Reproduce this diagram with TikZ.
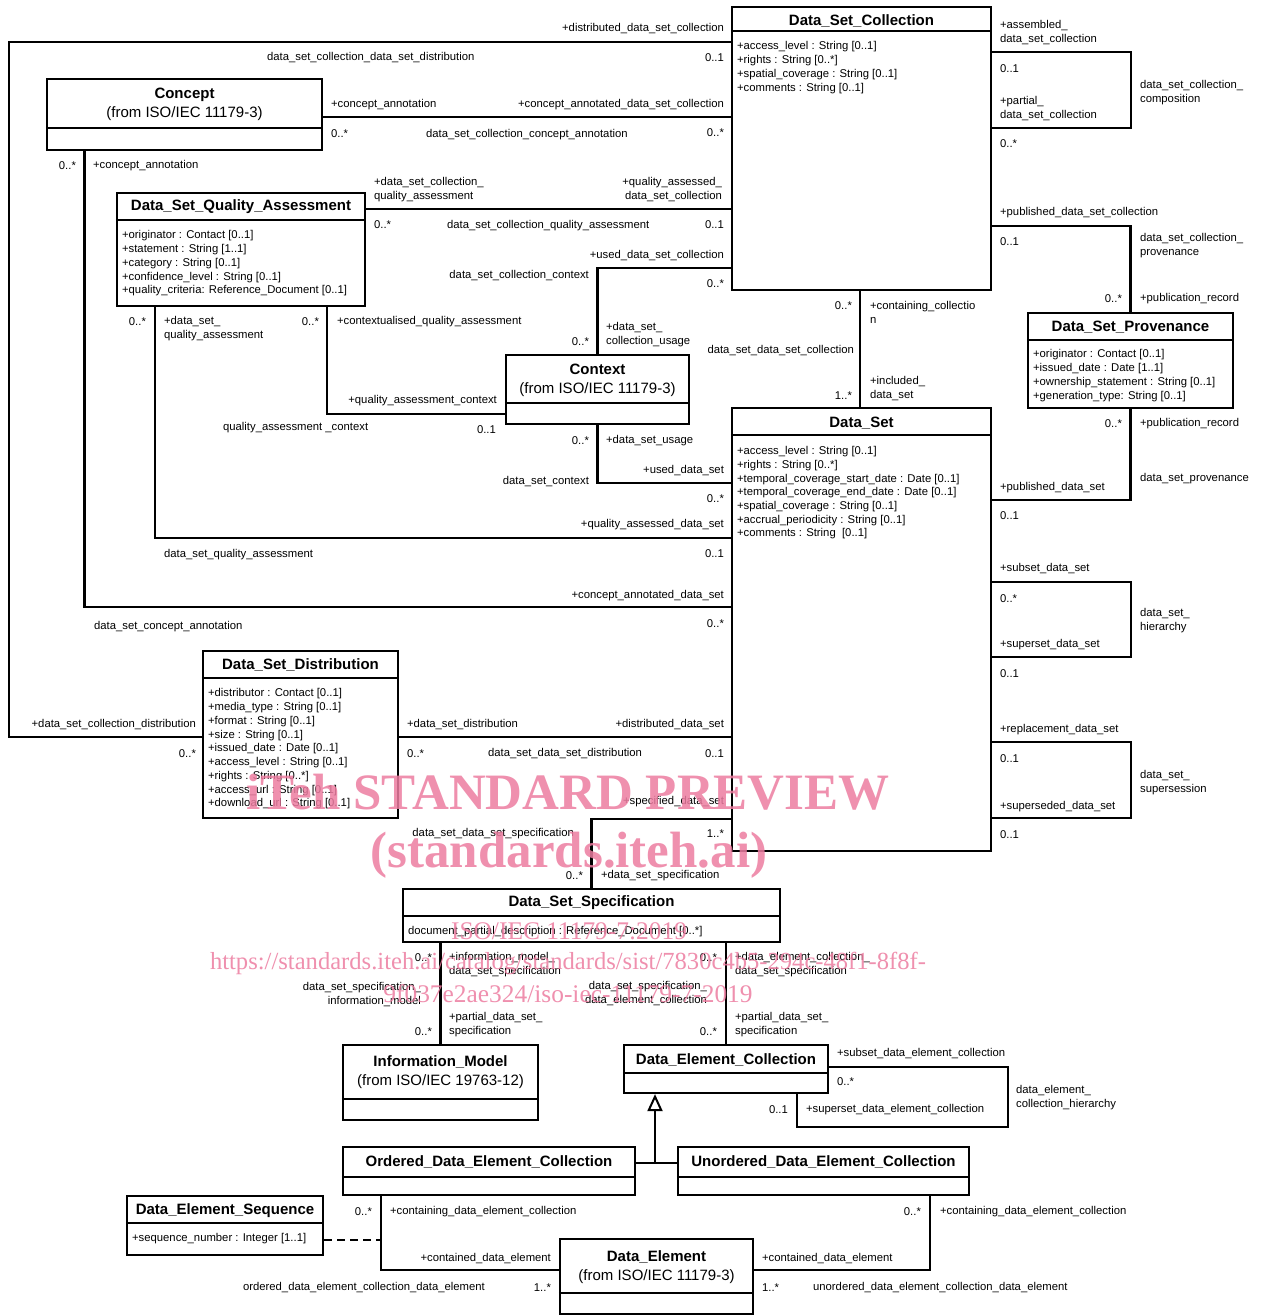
\documentclass[tikz,border=0pt]{standalone}
\usepackage{fontspec}
\setmainfont{Liberation Sans}
\newfontfamily\wmfont{Liberation Serif}
\usetikzlibrary{fit,arrows.meta}
\definecolor{wmpink}{RGB}{236,124,160}
\tikzset{
  ln/.style={line width=2.2pt},
  cbox/.style={draw, line width=2.2pt, inner sep=0pt},
  ttl/.style={font=\fontsize{15}{18}\selectfont\bfseries, inner sep=0pt, yshift=-1pt},
  ttl2/.style={font=\fontsize{15}{19}\selectfont, inner sep=0pt, align=center, yshift=-1.5pt},
  attr/.style={font=\fontsize{11.3}{13.75}\selectfont, align=left, inner sep=0pt, anchor=north west},
  lb/.style={font=\fontsize{11.3}{14}\selectfont, inner sep=0pt, yshift=-1.5pt},
  lw/.style={lb, anchor=west, align=left},
  le/.style={lb, anchor=east, align=right},
  wmb/.style={text=wmpink, text opacity=0.85, inner sep=0pt, font=\wmfont\bfseries\fontsize{51}{55}\selectfont},
  wmr/.style={text=wmpink, text opacity=0.85, inner sep=0pt, font=\wmfont\fontsize{25.4}{28}\selectfont},
}
\begin{document}
\begin{tikzpicture}[x=1pt,y=-1pt,line width=2.2pt]
\useasboundingbox (0,0) rectangle (1262,1316);
% ---------------- classes ----------------
% Data_Set_Collection
\node[cbox, fit={(732,7) (991,290)}] (dsc) {};
\draw (dsc.west |- 0,31) -- (dsc.east |- 0,31);
\node[ttl] (dsct) at (861.5,19.5) {Data\_Set\_Collection};
\node[attr] (dsca) at (736,40.5) {+access\_level : String [0..1]\\+rights : String [0..*]\\+spatial\_coverage : String [0..1]\\+comments : String [0..1]};
% Concept
\node[cbox, fit={(47,79) (322,150)}] (concept) {};
\draw (concept.west |- 0,128) -- (concept.east |- 0,128);
\node[ttl2] (conceptt) at (184.5,103) {\textbf{Concept}\\(from ISO/IEC 11179-3)};
% Data_Set_Quality_Assessment
\node[cbox, fit={(117,193) (365,306)}] (dsqa) {};
\draw (dsqa.west |- 0,220) -- (dsqa.east |- 0,220);
\node[ttl] (dsqat) at (241,206) {Data\_Set\_Quality\_Assessment};
\node[attr] (dsqaa) at (121,229.5) {+originator : Contact [0..1]\\+statement : String [1..1]\\+category : String [0..1]\\+confidence\_level : String [0..1]\\+quality\_criteria: Reference\_Document [0..1]};
% Context
\node[cbox, fit={(506,355) (689,424)}] (context) {};
\draw (context.west |- 0,403) -- (context.east |- 0,403);
\node[ttl2] (contextt) at (597.5,378.5) {\textbf{Context}\\(from ISO/IEC 11179-3)};
% Data_Set_Provenance
\node[cbox, fit={(1028,313) (1233,408)}] (dsp) {};
\draw (dsp.west |- 0,340) -- (dsp.east |- 0,340);
\node[ttl] (dspt) at (1130.5,326) {Data\_Set\_Provenance};
\node[attr] (dspa) at (1032,348.5) {+originator : Contact [0..1]\\+issued\_date : Date [1..1]\\+ownership\_statement : String [0..1]\\+generation\_type: String [0..1]};
% Data_Set
\node[cbox, fit={(732,408) (991,851)}] (ds) {};
\draw (ds.west |- 0,435) -- (ds.east |- 0,435);
\node[ttl] (dst) at (861.5,422) {Data\_Set};
\node[attr, font=\fontsize{11.3}{13.67}\selectfont] (dsa) at (736,445.5) {+access\_level : String [0..1]\\+rights : String [0..*]\\+temporal\_coverage\_start\_date : Date [0..1]\\+temporal\_coverage\_end\_date : Date [0..1]\\+spatial\_coverage : String [0..1]\\+accrual\_periodicity : String [0..1]\\+comments : String~ [0..1]};
% Data_Set_Distribution
\node[cbox, fit={(203,651) (398,818)}] (dsd) {};
\draw (dsd.west |- 0,678) -- (dsd.east |- 0,678);
\node[ttl] (dsdt) at (300.5,664) {Data\_Set\_Distribution};
\node[attr] (dsda) at (207,687.5) {+distributor : Contact [0..1]\\+media\_type : String [0..1]\\+format : String [0..1]\\+size : String [0..1]\\+issued\_date : Date [0..1]\\+access\_level : String [0..1]\\+rights : String [0..*]\\+access\_url : String [0..1]\\+download\_url : String [0..1]};
% Data_Set_Specification
\node[cbox, fit={(403,889) (780,942)}] (dss) {};
\draw (dss.west |- 0,916) -- (dss.east |- 0,916);
\node[ttl] (dsst) at (591.5,902) {Data\_Set\_Specification};
\node[attr] (dssa) at (407,925.5) {document\_partial\_description : Reference\_Document [0..*]};
% Information_Model
\node[cbox, fit={(343,1045) (538,1120)}] (im) {};
\draw (im.west |- 0,1099) -- (im.east |- 0,1099);
\node[ttl2] (imt) at (440.5,1071) {\textbf{Information\_Model}\\(from ISO/IEC 19763-12)};
% Data_Element_Collection
\node[cbox, fit={(624,1045) (828,1093)}] (dec) {};
\draw (dec.west |- 0,1073) -- (dec.east |- 0,1073);
\node[ttl] (dect) at (726,1058.5) {Data\_Element\_Collection};
% Ordered / Unordered
\node[cbox, fit={(343,1147) (635,1195)}] (odec) {};
\draw (odec.west |- 0,1177) -- (odec.east |- 0,1177);
\node[ttl] (odect) at (489,1161) {Ordered\_Data\_Element\_Collection};
\node[cbox, fit={(678,1147) (969,1195)}] (udec) {};
\draw (udec.west |- 0,1177) -- (udec.east |- 0,1177);
\node[ttl] (udect) at (823.5,1161) {Unordered\_Data\_Element\_Collection};
% Data_Element_Sequence
\node[cbox, fit={(127,1196) (323,1255)}] (desq) {};
\draw (desq.west |- 0,1223) -- (desq.east |- 0,1223);
\node[ttl] (desqt) at (225,1209.5) {Data\_Element\_Sequence};
\node[attr] (desqa) at (131,1232.5) {+sequence\_number : Integer [1..1]};
% Data_Element
\node[cbox, fit={(560,1239) (753,1314)}] (de) {};
\draw (de.west |- 0,1293) -- (de.east |- 0,1293);
\node[ttl2] (det) at (656.5,1266) {\textbf{Data\_Element}\\(from ISO/IEC 11179-3)};
% ---------------- connectors ----------------
\draw[ln] (dsc.west |- 0,42) -- (9,42) -- (9,737) -- (dsd.west |- 0,737);
\draw[ln] (concept.east |- 0,117) -- (dsc.west |- 0,117);
\draw[ln] (concept.south -| 84.5,0) -- (84.5,607) -- (ds.west |- 0,607);
\draw[ln] (dsqa.east |- 0,209) -- (dsc.west |- 0,209);
\draw[ln] (dsqa.south -| 155,0) -- (155,538) -- (ds.west |- 0,538);
\draw[ln] (dsqa.south -| 327,0) -- (327,414) -- (context.west |- 0,414);
\draw[ln] (context.north) -- (597.5,268) -- (dsc.west |- 0,268);
\draw[ln] (context.south) -- (597.5,483) -- (ds.west |- 0,483);
\draw[ln] (dsc.south -| 860,0) -- (ds.north -| 860,0);
\draw[ln] (dsc.east |- 0,52) -- (1131,52) -- (1131,128) -- (dsc.east |- 0,128);
\draw[ln] (dsc.east |- 0,226) -- (1130.5,226) -- (dsp.north);
\draw[ln] (dsp.south) -- (1130.5,500) -- (ds.east |- 0,500);
\draw[ln] (ds.east |- 0,582) -- (1131,582) -- (1131,657) -- (ds.east |- 0,657);
\draw[ln] (ds.east |- 0,742) -- (1131,742) -- (1131,818) -- (ds.east |- 0,818);
\draw[ln] (dsd.east |- 0,737) -- (ds.west |- 0,737);
\draw[ln] (ds.west |- 0,819) -- (591.5,819) -- (dss.north);
\draw[ln] (dss.south -| im.north) -- (im.north);
\draw[ln] (dss.south -| dec.north) -- (dec.north);
\draw[ln] (dec.east |- 0,1067) -- (1008,1067) -- (1008,1127) -- (797,1127) -- (dec.south -| 797,0);
\coordinate (gj) at (655,1163);
\draw[ln] (odec.east |- gj) -- (udec.west |- gj);
\draw[ln, -{Triangle[open, length=17pt, width=15pt, line width=2pt]}] (gj) -- (dec.south -| gj);
\draw[ln] (odec.south -| 381,0) -- (381,1270) -- (de.west |- 0,1270);
\draw[ln] (udec.south -| 930,0) -- (930,1270) -- (de.east |- 0,1270);
\coordinate (dj) at (381,1240);
\draw[ln, dash pattern=on 8pt off 5pt] (desq.east |- dj) -- (dj);
% ---------------- labels ----------------
\node[le] (L1) at (725,27) {+distributed\_data\_set\_collection};
\node[lw] (L2) at (266,56) {data\_set\_collection\_data\_set\_distribution};
\node[le] (L3) at (725,56) {0..1};
\node[lw] (L4) at (330,103) {+concept\_annotation};
\node[le] (L5) at (725,103) {+concept\_annotated\_data\_set\_collection};
\node[lw] (L6) at (330,132) {0..*};
\node[lw] (L7) at (425,133) {data\_set\_collection\_concept\_annotation};
\node[le] (L8) at (725,131) {0..*};
\node[le] (L9) at (77,164) {0..*};
\node[lw] (L10) at (92,164) {+concept\_annotation};
\node[lw] (L11) at (373,188) {+data\_set\_collection\_\\quality\_assessment};
\node[le] (L12) at (723,188) {+quality\_assessed\_\\data\_set\_collection};
\node[lw] (L13) at (373,223) {0..*};
\node[lw] (L14) at (446,224) {data\_set\_collection\_quality\_assessment};
\node[le] (L15) at (725,223) {0..1};
\node[le] (L16) at (725,254) {+used\_data\_set\_collection};
\node[le] (L17) at (590,274) {data\_set\_collection\_context};
\node[le] (L18) at (725,282) {0..*};
\node[le] (L19) at (147,320) {0..*};
\node[lw] (L20) at (163,327) {+data\_set\_\\quality\_assessment};
\node[le] (L21) at (320,320) {0..*};
\node[lw] (L22) at (336,320) {+contextualised\_quality\_assessment};
\node[le] (L23) at (590,340) {0..*};
\node[lw] (L24) at (605,333) {+data\_set\_\\collection\_usage};
\node[le] (L25) at (853,304) {0..*};
\node[lw] (L26) at (869,311) {+containing\_collectio\\n};
\node[le] (L27) at (855,349) {data\_set\_data\_set\_collection};
\node[le] (L28) at (853,394) {1..*};
\node[lw] (L29) at (869,387) {+included\_\\data\_set};
\node[le] (L30) at (498,399) {+quality\_assessment\_context};
\node[lw] (L31) at (222,426) {quality\_assessment \_context};
\node[le] (L32) at (497,428) {0..1};
\node[le] (L33) at (590,439) {0..*};
\node[lw] (L34) at (605,439) {+data\_set\_usage};
\node[le] (L35) at (725,469) {+used\_data\_set};
\node[le] (L36) at (590,480) {data\_set\_context};
\node[le] (L37) at (725,497) {0..*};
\node[le] (L38) at (725,523) {+quality\_assessed\_data\_set};
\node[le] (L39) at (725,552) {0..1};
\node[lw] (L40) at (163,553) {data\_set\_quality\_assessment};
\node[le] (L41) at (725,594) {+concept\_annotated\_data\_set};
\node[le] (L42) at (725,622) {0..*};
\node[lw] (L43) at (93,625) {data\_set\_concept\_annotation};
\node[le] (L44) at (197,723) {+data\_set\_collection\_distribution};
\node[le] (L45) at (197,752) {0..*};
\node[lw] (L46) at (406,723) {+data\_set\_distribution};
\node[le] (L47) at (725,723) {+distributed\_data\_set};
\node[lw] (L48) at (406,752) {0..*};
\node[lw] (L49) at (487,752) {data\_set\_data\_set\_distribution};
\node[le] (L50) at (725,752) {0..1};
\node[le] (L51) at (725,800) {+specified\_data\_set};
\node[le] (L52) at (725,832) {1..*};
\node[le] (L53) at (575,832) {data\_set\_data\_set\_specification};
\node[le] (L54) at (584,874) {0..*};
\node[lw] (L55) at (600,874) {+data\_set\_specification};
% right side
\node[lw] (R1) at (999,31) {+assembled\_\\data\_set\_collection};
\node[lw] (R2) at (999,67) {0..1};
\node[lw] (R3) at (999,107) {+partial\_\\data\_set\_collection};
\node[lw] (R4) at (999,142) {0..*};
\node[lw] (R5) at (1139,91) {data\_set\_collection\_\\composition};
\node[lw] (R6) at (999,211) {+published\_data\_set\_collection};
\node[lw] (R7) at (999,240) {0..1};
\node[lw] (R8) at (1139,244) {data\_set\_collection\_\\provenance};
\node[le] (R9) at (1123,297) {0..*};
\node[lw] (R10) at (1139,297) {+publication\_record};
\node[le] (R11) at (1123,422) {0..*};
\node[lw] (R12) at (1139,422) {+publication\_record};
\node[lw] (R13) at (1139,477) {data\_set\_provenance};
\node[lw] (R14) at (999,486) {+published\_data\_set};
\node[lw] (R15) at (999,514) {0..1};
\node[lw] (R16) at (999,567) {+subset\_data\_set};
\node[lw] (R17) at (999,597) {0..*};
\node[lw] (R18) at (999,643) {+superset\_data\_set};
\node[lw] (R19) at (999,672) {0..1};
\node[lw] (R20) at (1139,619) {data\_set\_\\hierarchy};
\node[lw] (R21) at (999,728) {+replacement\_data\_set};
\node[lw] (R22) at (999,757) {0..1};
\node[lw] (R23) at (999,805) {+superseded\_data\_set};
\node[lw] (R24) at (999,833) {0..1};
\node[lw] (R25) at (1139,781) {data\_set\_\\supersession};
% bottom
\node[le] (B1) at (433,956) {0..*};
\node[lw] (B2) at (448,963) {+information\_model\_\\data\_set\_specification};
\node[le] (B3) at (422,993) {data\_set\_specification\_\\information\_model};
\node[lw] (B4) at (448,1023) {+partial\_data\_set\_\\specification};
\node[le] (B5) at (433,1030) {0..*};
\node[le] (B6) at (718,956) {0..*};
\node[lw] (B7) at (734,963) {+data\_element\_collection\_\\data\_set\_specification};
\node[le] (B8) at (708,992) {data\_set\_specification\_\\data\_element\_collection};
\node[lw] (B9) at (734,1023) {+partial\_data\_set\_\\specification};
\node[le] (B10) at (718,1030) {0..*};
\node[lw] (B11) at (836,1052) {+subset\_data\_element\_collection};
\node[lw] (B12) at (836,1080) {0..*};
\node[le] (B13) at (789,1108) {0..1};
\node[lw] (B14) at (805,1108) {+superset\_data\_element\_collection};
\node[lw] (B15) at (1015,1096) {data\_element\_\\collection\_hierarchy};
\node[le] (B16) at (373,1210) {0..*};
\node[lw] (B17) at (389,1210) {+containing\_data\_element\_collection};
\node[le] (B18) at (552,1257) {+contained\_data\_element};
\node[le] (B19) at (486,1286) {ordered\_data\_element\_collection\_data\_element};
\node[le] (B20) at (552,1286) {1..*};
\node[le] (B21) at (922,1210) {0..*};
\node[lw] (B22) at (939,1210) {+containing\_data\_element\_collection};
\node[lw] (B23) at (761,1257) {+contained\_data\_element};
\node[lw] (B24) at (761,1286) {1..*};
\node[lw] (B25) at (812,1286) {unordered\_data\_element\_collection\_data\_element};
% ---------------- watermark ----------------
\node[wmb] (wm1) at (568,792) {iTeh STANDARD PREVIEW};
\node[wmb] (wm2) at (569,855) {(standards.iteh.ai)};
\node[wmr] (wm3) at (569,931) {ISO/IEC 11179-7:2019};
\node[wmr, font=\wmfont\fontsize{24.6}{28}\selectfont] (wm4) at (568,963) {https://standards.iteh.ai/catalog/standards/sist/7830c4b5-294c-48f1-8f8f-};
\node[wmr] (wm5) at (568,994) {9f037e2ae324/iso-iec-11179-7-2019};
\end{tikzpicture}
\end{document}
